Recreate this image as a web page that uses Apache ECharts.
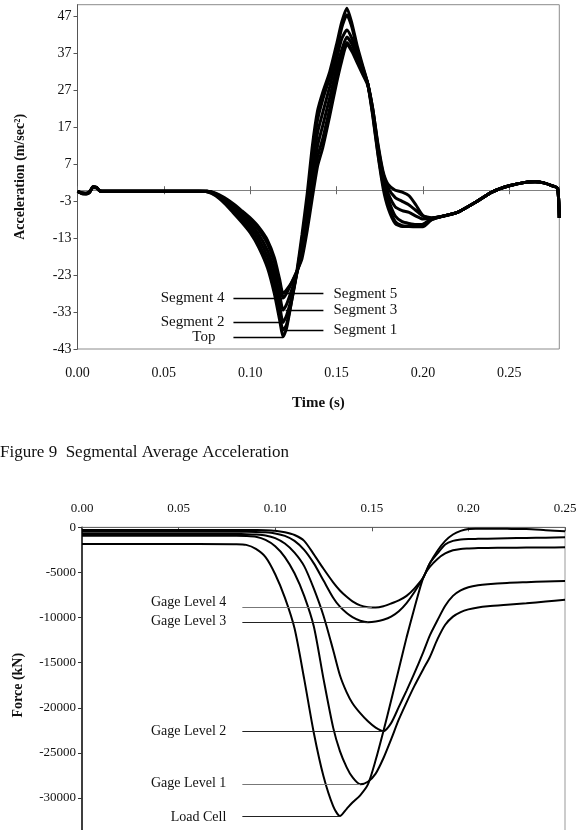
<!DOCTYPE html>
<html>
<head>
<meta charset="utf-8">
<script src="https://cdn.jsdelivr.net/npm/echarts@6/dist/echarts.min.js"></script>
<style>
  html, body { margin: 0; padding: 0; background: #fff; }
  #main { width: 576px; height: 830px; }
</style>
</head>
<body>
<div id="main"></div>
<script>
// ---- Figure 9: segmental average acceleration (m/sec^2) vs time (s)
const accTime = [0, 0.003, 0.005, 0.007, 0.009, 0.011, 0.013, 0.02, 0.04, 0.06, 0.07, 0.075,
  0.08, 0.085, 0.09, 0.095, 0.1, 0.105, 0.11, 0.114, 0.117, 0.119, 0.121, 0.124, 0.127, 0.13,
  0.133, 0.136, 0.139, 0.142, 0.146, 0.15, 0.153, 0.156, 0.159, 0.162, 0.165, 0.168, 0.171,
  0.174, 0.177, 0.18, 0.184, 0.188, 0.192, 0.196, 0.2, 0.205,
  0.21, 0.22, 0.23, 0.24, 0.25, 0.26, 0.265, 0.27, 0.275, 0.278, 0.279];

const accTop = [-0.3, -1.0, -1.0, -0.6, 1.0, 0.8, -0.2, -0.3, -0.3, -0.3, -0.3, -0.4,
  -1.5, -3.5, -6.0, -8.6, -11.5, -15.5, -21.0, -28.0, -35.0, -39.7, -37.5, -30.0, -22.0, -12.0,
  -1.0, 12.0, 21.5, 26.5, 32.0, 39.5, 45.5, 49.3, 45.0, 39.0, 34.0, 29.0, 20.0,
  9.5, 0.5, -5.0, -9.0, -9.8, -9.8, -9.7, -9.3, -8.0,
  -7.2, -6.0, -3.4, -0.5, 1.2, 2.2, 2.3, 2.0, 1.2, 0.5, -7.5];
const accSeg1 = [-0.3, -0.9, -1.0, -0.5, 0.9, 0.8, -0.2, -0.3, -0.3, -0.3, -0.3, -0.4,
  -1.3, -3.2, -5.5, -8.0, -10.8, -14.5, -19.8, -26.5, -33.5, -37.9, -36.5, -30.0, -22.5, -13.5,
  -3.0, 9.0, 19.0, 24.5, 30.5, 37.5, 44.0, 47.5, 44.0, 38.0, 33.5, 29.0, 20.5,
  10.0, 1.5, -4.0, -8.5, -9.6, -9.8, -9.9, -9.9, -8.0,
  -7.2, -6.0, -3.4, -0.5, 1.2, 2.2, 2.3, 2.0, 1.2, 0.5, -7.5];
const accSeg2 = [-0.3, -0.9, -0.9, -0.5, 0.9, 0.7, -0.2, -0.3, -0.3, -0.3, -0.3, -0.3,
  -1.2, -2.9, -5.0, -7.3, -9.9, -13.2, -18.0, -24.2, -31.0, -35.8, -34.0, -29.0, -22.5, -15.0,
  -5.5, 5.5, 15.5, 21.0, 28.0, 35.5, 41.0, 43.4, 41.0, 37.0, 33.0, 29.0, 21.0,
  11.0, 2.5, -2.5, -7.0, -8.5, -9.0, -9.3, -9.2, -7.8,
  -7.2, -6.0, -3.4, -0.5, 1.2, 2.2, 2.3, 2.0, 1.2, 0.5, -7.5];
const accSeg3 = [-0.3, -0.8, -0.9, -0.5, 0.8, 0.7, -0.2, -0.3, -0.3, -0.3, -0.3, -0.3,
  -1.0, -2.6, -4.5, -6.6, -9.0, -12.0, -16.3, -21.8, -28.0, -32.5, -31.0, -27.0, -22.5, -16.5,
  -7.5, 3.0, 12.0, 17.5, 25.0, 33.0, 38.0, 41.5, 39.5, 36.0, 32.5, 29.0, 21.5,
  11.5, 3.5, -1.0, -4.5, -5.5, -6.0, -7.0, -7.8, -7.6,
  -7.2, -6.0, -3.4, -0.5, 1.2, 2.2, 2.3, 2.0, 1.2, 0.5, -7.5];
const accSeg4 = [-0.3, -0.8, -0.8, -0.4, 0.8, 0.6, -0.2, -0.3, -0.3, -0.3, -0.3, -0.3,
  -0.9, -2.3, -4.0, -6.0, -8.2, -10.8, -14.5, -19.5, -25.0, -29.2, -28.0, -25.0, -22.0, -17.5,
  -9.5, 0.5, 9.0, 14.0, 22.0, 30.5, 36.0, 40.0, 38.0, 35.0, 32.0, 29.0, 22.0,
  12.0, 4.5, 0.5, -2.0, -3.0, -4.0, -5.5, -7.0, -7.5,
  -7.2, -6.0, -3.4, -0.5, 1.2, 2.2, 2.3, 2.0, 1.2, 0.5, -7.5];
const accSeg5 = [-0.3, -0.7, -0.8, -0.4, 0.7, 0.6, -0.2, -0.3, -0.3, -0.3, -0.3, -0.3,
  -0.8, -2.0, -3.6, -5.5, -7.5, -10.0, -13.5, -18.3, -24.0, -28.0, -27.0, -25.0, -22.0, -18.5,
  -11.0, -2.0, 6.5, 11.5, 20.0, 29.0, 35.0, 39.5, 37.5, 34.5, 31.5, 28.5, 22.0,
  12.5, 5.0, 1.5, 0.0, -0.5, -1.5, -4.0, -6.8, -7.5,
  -7.2, -6.0, -3.4, -0.5, 1.2, 2.2, 2.3, 2.0, 1.2, 0.5, -7.5];

const accNames = ['Top', 'Segment 1', 'Segment 2', 'Segment 3', 'Segment 4', 'Segment 5'];
const accValues = [accTop, accSeg1, accSeg2, accSeg3, accSeg4, accSeg5];
const accTicks = [-43, -33, -23, -13, -3, 7, 17, 27, 37, 47];

// leader-line annotations: [label, value, t from, t to, side]
const accNotes = [
  ['Segment 4', -29.2, 0.0903, 0.119, 'left'],
  ['Segment 2', -35.8, 0.0903, 0.119, 'left'],
  ['Top', -39.7, 0.0903, 0.119, 'left'],
  ['Segment 5', -28.0, 0.1215, 0.1424, 'right'],
  ['Segment 3', -32.5, 0.1205, 0.1424, 'right'],
  ['Segment 1', -37.9, 0.1200, 0.1424, 'right']
];

// ---- force (kN) vs time (s)
const forceTime = [0, 0.02, 0.04, 0.06, 0.08, 0.085, 0.09, 0.095, 0.1, 0.105, 0.11, 0.115,
  0.12, 0.125, 0.13, 0.1335, 0.137, 0.14, 0.144, 0.148, 0.152, 0.156, 0.16, 0.164, 0.168,
  0.172, 0.1767, 0.18, 0.184, 0.188, 0.192, 0.196, 0.2, 0.205, 0.21, 0.22, 0.23, 0.24, 0.25];

const loadCell = [-1850, -1850, -1850, -1850, -1870, -1950, -2400, -3300, -5200, -7800, -11200, -16800,
  -22800, -27600, -30900, -32000, -31200, -30500, -29700, -28500, -25800, -22600, -19200, -15700, -12200,
  -9000, -5550, -4400, -3500, -2900, -2550, -2400, -2350, -2300, -2290, -2270, -2250, -2240, -2220];
const gage1 = [-930, -930, -930, -930, -940, -960, -1050, -1400, -2100, -3300, -5100, -7600,
  -11000, -16800, -22200, -24800, -26600, -27700, -28480, -28200, -27300, -25600, -23500, -21300, -19400,
  -17600, -15700, -14400, -12400, -10800, -9900, -9400, -9100, -8880, -8750, -8580, -8420, -8220, -8030];
const gage2 = [-740, -740, -740, -740, -745, -760, -800, -900, -1200, -1800, -2800, -4300,
  -6800, -9800, -13600, -16400, -18300, -19500, -20600, -21500, -22200, -22590, -21700, -19900, -18100,
  -16200, -13800, -12000, -10300, -8700, -7600, -7000, -6650, -6420, -6300, -6160, -6080, -6010, -5960];
const gage3 = [-490, -490, -490, -490, -490, -495, -510, -560, -680, -950, -1500, -2500,
  -4000, -5900, -7800, -8800, -9500, -9950, -10350, -10520, -10450, -10250, -9900, -9300, -8400,
  -7200, -5550, -4000, -2900, -1900, -1500, -1350, -1300, -1280, -1260, -1220, -1180, -1150, -1110];
const gage4 = [-300, -300, -300, -300, -300, -300, -305, -320, -380, -550, -850, -1500,
  -3000, -4600, -6100, -7000, -7700, -8200, -8650, -8850, -8890, -8750, -8450, -8100, -7600,
  -6800, -5550, -4000, -2600, -1500, -800, -400, -200, -170, -150, -170, -200, -320, -440];

const forceNames = ['Load Cell', 'Gage Level 1', 'Gage Level 2', 'Gage Level 3', 'Gage Level 4'];
const forceValues = [loadCell, gage1, gage2, gage3, gage4];

// [label, value, t from, t to, text nudge]
const forceNotes = [
  ['Gage Level 4', -8890, 0.083, 0.150, -5],
  ['Gage Level 3', -10520, 0.083, 0.148, -1],
  ['Gage Level 2', -22590, 0.083, 0.156, 0],
  ['Gage Level 1', -28480, 0.083, 0.144, -1],
  ['Load Cell', -32000, 0.083, 0.1335, 1]
];

const serif = 'Liberation Serif';
const ink = '#111';

const chart = echarts.init(document.getElementById('main'), null, { renderer: 'canvas' });

const accMarks = accNotes.map((n) => [
  {
    coord: [n[2], n[1]],
    name: n[0],
    label: {
      position: n[4] === 'left' ? 'start' : 'end',
      distance: n[0] === 'Top' ? 18 : (n[4] === 'left' ? 9 : 10)
    }
  },
  { coord: [n[3], n[1]] }
]);

const forceMarks = forceNotes.map((n) => [
  {
    coord: [n[2], n[1]],
    name: n[0],
    label: { position: 'start', distance: 16, offset: [0, n[4]] },
    lineStyle: { color: (n[0] === 'Gage Level 4' || n[0] === 'Gage Level 1') ? '#777' : '#222' }
  },
  { coord: [n[3], n[1]] }
]);

const markLabel = {
  show: true,
  formatter: '{b}',
  fontFamily: serif,
  fontSize: 15,
  color: ink
};

const series = [];
accNames.forEach((name, k) => {
  const s = {
    name,
    type: 'line',
    xAxisIndex: 0,
    yAxisIndex: 0,
    data: accTime.map((t, i) => [t, accValues[k][i]]),
    showSymbol: false,
    smooth: 0.2,
    lineStyle: { color: '#000', width: 3 },
    z: 3
  };
  if (k === 0) {
    s.markLine = {
      silent: true,
      symbol: ['none', 'none'],
      animation: false,
      lineStyle: { color: '#000', width: 1.3, type: 'solid' },
      label: markLabel,
      data: accMarks
    };
  }
  series.push(s);
});

forceNames.forEach((name, k) => {
  const s = {
    name,
    type: 'line',
    xAxisIndex: 3,
    yAxisIndex: 1,
    data: forceTime.map((t, i) => [t, forceValues[k][i]]),
    showSymbol: false,
    smooth: 0.25,
    lineStyle: { color: '#000', width: 2 },
    z: 3
  };
  if (k === 0) {
    s.markLine = {
      silent: true,
      symbol: ['none', 'none'],
      animation: false,
      lineStyle: { color: '#222', width: 1, type: 'solid' },
      label: Object.assign({}, markLabel, { fontSize: 14 }),
      data: forceMarks
    };
  }
  series.push(s);
});

const option = {
  animation: false,
  backgroundColor: '#fff',
  title: {
    text: 'Figure 9  Segmental Average Acceleration',
    left: 0,
    top: 444,
    padding: 0,
    textStyle: { fontFamily: serif, fontSize: 17, fontWeight: 'normal', color: ink }
  },
  grid: [
    { left: 77.5, top: 4.7, width: 481.8, height: 344.3, show: true,
      borderColor: '#8c8c8c', borderWidth: 1, containLabel: false, outerBoundsMode: 'none' },
    { left: 82, top: 527.3, width: 483, height: 315.8, show: true,
      borderColor: '#999', borderWidth: 1, containLabel: false, outerBoundsMode: 'none' }
  ],
  xAxis: [
    { // zero line with inside ticks
      gridIndex: 0, type: 'value', min: 0, max: 0.279, interval: 0.05, position: 'bottom',
      axisLine: { show: true, onZero: true, onZeroAxisIndex: 0, lineStyle: { color: '#808080', width: 1 } },
      axisTick: { show: true, inside: true, length: 4, lineStyle: { color: '#666' } },
      axisLabel: { show: false },
      splitLine: { show: false }
    },
    { // labels along the bottom
      gridIndex: 0, type: 'value', min: 0, max: 0.279, interval: 0.05, position: 'bottom',
      axisLine: { show: false, onZero: false },
      axisTick: { show: false },
      axisLabel: {
        formatter: (v) => v.toFixed(2), showMaxLabel: false,
        fontFamily: serif, fontSize: 14, color: ink, margin: 17
      },
      splitLine: { show: false },
      name: 'Time (s)', nameLocation: 'middle', nameGap: 47,
      nameTextStyle: { fontFamily: serif, fontSize: 15, fontWeight: 'bold', color: ink }
    },
    { // zero line with outside ticks
      gridIndex: 0, type: 'value', min: 0, max: 0.279, interval: 0.05, position: 'bottom',
      axisLine: { show: true, onZero: true, onZeroAxisIndex: 0, lineStyle: { color: '#808080', width: 1 } },
      axisTick: { show: true, inside: false, length: 4, lineStyle: { color: '#666' } },
      axisLabel: { show: false },
      splitLine: { show: false }
    },
    { // force chart, time axis on top
      gridIndex: 1, type: 'value', min: 0, max: 0.25, interval: 0.05, position: 'top',
      axisLine: { show: true, onZero: false, lineStyle: { color: '#666', width: 1 } },
      axisTick: { show: true, inside: true, length: 4, lineStyle: { color: '#555' } },
      axisLabel: {
        formatter: (v) => v.toFixed(2),
        fontFamily: serif, fontSize: 13, color: ink, margin: 12
      },
      splitLine: { show: false }
    }
  ],
  yAxis: [
    {
      gridIndex: 0, type: 'value', min: -43, max: 50.25,
      axisLine: { show: true, onZero: false, lineStyle: { color: '#555', width: 1 } },
      axisTick: { show: true, inside: false, length: 4, customValues: accTicks, lineStyle: { color: '#555' } },
      axisLabel: { customValues: accTicks, fontFamily: serif, fontSize: 14, color: ink, margin: 6 },
      splitLine: { show: false },
      name: 'Acceleration (m/sec²)', nameLocation: 'middle', nameGap: 50,
      nameTextStyle: { fontFamily: serif, fontSize: 14, fontWeight: 'bold', color: ink }
    },
    {
      gridIndex: 1, type: 'value', min: -35000, max: 0, interval: 5000,
      axisLine: { show: true, onZero: false, lineStyle: { color: '#111', width: 1.5 } },
      axisTick: { show: true, inside: false, length: 4, lineStyle: { color: '#333' } },
      axisLabel: { formatter: (v) => String(v), fontFamily: serif, fontSize: 13, color: ink, margin: 6 },
      splitLine: { show: false },
      name: 'Force (kN)', nameLocation: 'middle', nameGap: 57,
      nameTextStyle: { fontFamily: serif, fontSize: 14, fontWeight: 'bold', color: ink }
    }
  ],
  series
};

chart.setOption(option);
</script>
</body>
</html>
